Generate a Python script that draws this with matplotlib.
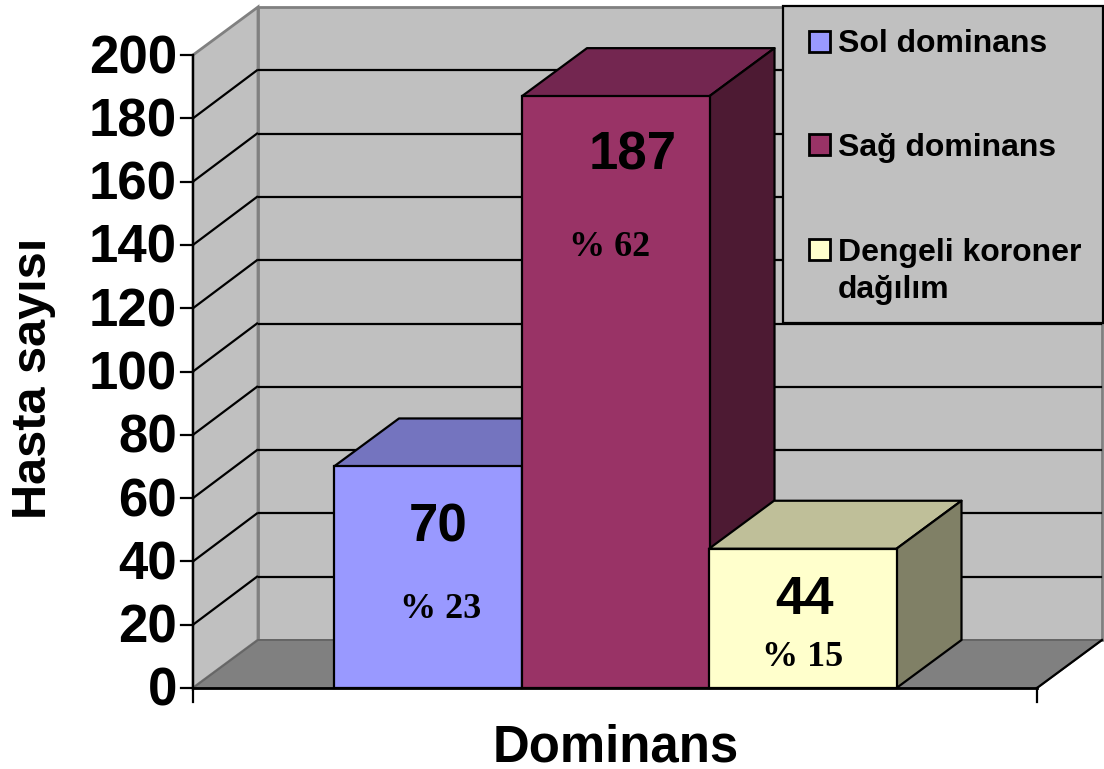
#!/usr/bin/env python3
"""Hasta sayisi by coronary dominance, drawn as a 3D-look bar chart."""
import matplotlib
matplotlib.use("Agg")
import matplotlib.pyplot as plt
from matplotlib.patches import Polygon, Rectangle

categories = ["Sol dominans", "Sağ dominans", "Dengeli koroner\ndağılım"]
values = [70, 187, 44]
percents = ["% 23", "% 62", "% 15"]
yticks = list(range(0, 201, 20))

front_colors = ["#9999FF", "#993366", "#FFFFCC"]
top_colors = ["#7474BF", "#732650", "#BFBF99"]
side_colors = ["#5C5C99", "#4D1A33", "#808066"]

W, H = 1104, 769
# one pixel per data unit in x, y is converted with y_px
X0, X1 = 193, 1037
Y0, Y200 = 688, 55
DX, DY = 65, -48
BAR_X = [334, 522, 709]
BAR_W = 187.5
LW = 1.6
GREY = "#808080"


def y_px(v):
    return Y0 + (Y200 - Y0) * v / 200


plt.rcParams["font.family"] = ["Liberation Sans", "DejaVu Sans"]
fig = plt.figure(figsize=(W / 100, H / 100), dpi=100)
ax = fig.add_axes([0, 0, 1, 1])
ax.set_xlim(0, W)
ax.set_ylim(H, 0)
ax.axis("off")

# walls and floor
ax.add_patch(Polygon([(X0, Y0), (X0 + DX, Y0 + DY), (X0 + DX, Y200 + DY), (X0, Y200)],
                     fc="#C0C0C0", ec=GREY, lw=2))
ax.add_patch(Rectangle((X0 + DX, Y200 + DY), X1 - X0, Y0 - Y200, fc="#C0C0C0", ec=GREY, lw=2))
ax.add_patch(Polygon([(X0, Y0), (X0 + DX, Y0 + DY), (X1 + DX, Y0 + DY), (X1, Y0)],
                     fc=GREY, ec="#666666", lw=1.4))

# gridlines along both walls, the top one stays grey
for v in yticks[1:-1]:
    y = y_px(v)
    ax.plot([X0, X0 + DX - 1], [y, y + DY], color="black", lw=LW, zorder=2)
    ax.plot([X0 + DX + 1, X1 + DX - 1], [y + DY, y + DY], color="black", lw=LW, zorder=2)

# axes and ticks
ax.plot([X0, X0], [Y200, Y0 + 14], color="black", lw=LW, zorder=2)
ax.plot([X0, X1], [Y0, Y0], color="black", lw=LW + 0.4, zorder=2)
ax.plot([X1, X1 + DX], [Y0, Y0 + DY], color="black", lw=LW, zorder=2)
ax.plot([X1, X1], [Y0, Y0 + 14], color="black", lw=LW, zorder=2)
for v in yticks:
    y = y_px(v)
    ax.plot([X0 - 12, X0], [y, y], color="black", lw=LW, zorder=2)
    ax.text(X0 - 16, y + 4, str(v), ha="right", va="center", fontsize=38, fontweight="bold")

# bars, left to right so each one covers the side of the previous
for i, v in enumerate(values):
    x, top = BAR_X[i], y_px(v)
    z = 3 + i
    ax.add_patch(Polygon([(x, top), (x + DX, top + DY), (x + BAR_W + DX, top + DY), (x + BAR_W, top)],
                         fc=top_colors[i], ec="black", lw=LW, zorder=z, joinstyle="round"))
    ax.add_patch(Polygon([(x + BAR_W, top), (x + BAR_W + DX, top + DY), (x + BAR_W + DX, Y0 + DY), (x + BAR_W, Y0)],
                         fc=side_colors[i], ec="black", lw=LW, zorder=z, joinstyle="round"))
    ax.add_patch(Rectangle((x, top), BAR_W, Y0 - top, fc=front_colors[i], ec="black", lw=LW, zorder=z + 0.1))

# value and percent labels on the bars
value_pos = [(438, 527), (633, 155), (805, 600)]
pct_pos = [(441, 610), (610, 248), (803, 658)]
for i in range(3):
    ax.text(*value_pos[i], str(values[i]), ha="center", va="center", fontsize=38,
            fontweight="bold", zorder=8)
    ax.text(*pct_pos[i], percents[i], ha="center", va="center", fontsize=26, fontweight="bold",
            family=["Liberation Serif", "DejaVu Serif"], zorder=8)

# legend box
ax.add_patch(Rectangle((783, 6), 320, 317, fc="#C0C0C0", ec="black", lw=LW, zorder=9))
swatch_y = [31, 134, 239]
# baseline of the last line of each entry
text_y = [52, 156, 298]
for i, name in enumerate(categories):
    ax.add_patch(Rectangle((809, swatch_y[i]), 21, 21, fc=front_colors[i], ec="black", lw=LW + 0.4, zorder=10))
    ax.text(838, text_y[i], name, ha="left", va="baseline",
            fontsize=23, fontweight="bold", zorder=10, linespacing=1.32)

# axis titles
ax.text(616, 762, "Dominans", ha="center", va="baseline", fontsize=36.6, fontweight="bold")
ax.text(34, 378, "Hasta sayısı", ha="center", va="center", rotation=90, fontsize=35, fontweight="bold")

fig.savefig("out.png", dpi=100)
